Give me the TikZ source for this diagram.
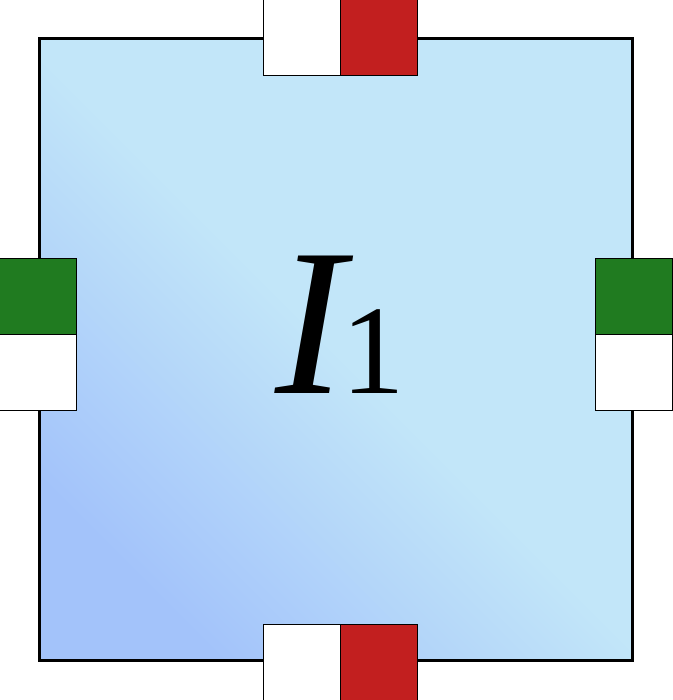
\documentclass[tikz,border=0pt]{standalone}
\usepackage{fontspec}
\usetikzlibrary{positioning}
\newfontfamily\labelfont{Liberation Serif}
\definecolor{blockdark}{HTML}{A3C3FA}
\definecolor{blocklight}{HTML}{C2E6F9}
\definecolor{portred}{HTML}{C21F1F}
\definecolor{portgreen}{HTML}{207B20}
\tikzset{
  block/.style={draw=black, line width=3pt, minimum width=593pt, minimum height=621pt,
    inner sep=0pt, left color=blockdark, right color=blocklight,
    middle color=blocklight, shading angle=135},
  port/.style={draw=black, line width=1pt, minimum width=77pt, minimum height=76pt,
    inner sep=0pt, outer sep=0pt},
}
\begin{document}
\begin{tikzpicture}[x=1pt, y=-1pt]
  % Frame of the picture
  \useasboundingbox (0,0) rectangle (672,700);
  % The block
  \node[block] (blk) at (335.5,349.5) {};
  \node[inner sep=0pt, anchor=base] (lbl) at (340,393)
    {\labelfont\fontsize{210}{210}\selectfont\itshape I\upshape\kern-4pt\fontsize{127}{127}\selectfont 1};
  % Ports top and bottom
  \node[port, fill=white] (topin) at (301.5,37.5) {};
  \node[port, fill=portred, right=0pt of topin] (topout) {};
  \node[port, fill=white] (botin) at (301.5,662) {};
  \node[port, fill=portred, right=0pt of botin] (botout) {};
  % Ports left and right
  \node[port, fill=portgreen] (leftin) at (38,296.5) {};
  \node[port, fill=white, below=0pt of leftin] (leftout) {};
  \node[port, fill=portgreen] (rightin) at (633.5,296.5) {};
  \node[port, fill=white, below=0pt of rightin] (rightout) {};
\end{tikzpicture}
\end{document}
